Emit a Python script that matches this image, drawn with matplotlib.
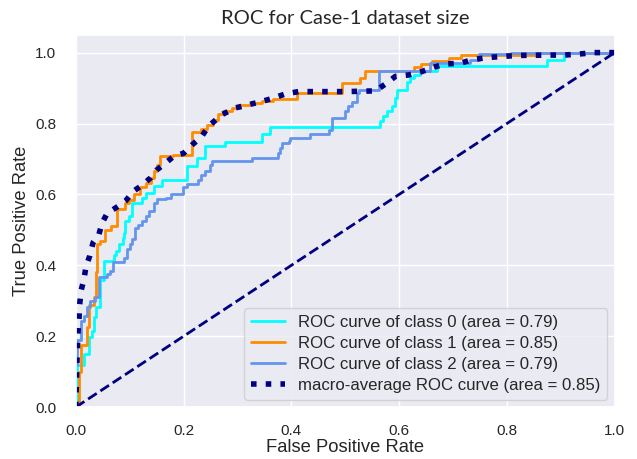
import numpy as np
import matplotlib
matplotlib.use("Agg")
import matplotlib.pyplot as plt
import seaborn as sns

# ROC step corners: (fpr where the curve rises, tpr after the rise)
fpr_0 = [0.0, 0.003, 0.015, 0.024, 0.030, 0.033, 0.038, 0.045, 0.052, 0.070, 0.075, 0.080,
         0.087, 0.090, 0.092, 0.098, 0.105, 0.123, 0.130, 0.145, 0.160, 0.207, 0.224, 0.240,
         0.277, 0.345, 0.361, 0.565, 0.570, 0.577, 0.586, 0.593, 0.596, 0.615, 0.621, 0.627,
         0.639, 0.670, 0.875, 0.905, 1.0]
tpr_0 = [0.0, 0.12, 0.15, 0.198, 0.216, 0.254, 0.282, 0.36, 0.413, 0.43, 0.44, 0.46,
         0.478, 0.49, 0.525, 0.54, 0.577, 0.59, 0.605, 0.624, 0.642, 0.68, 0.703, 0.736,
         0.748, 0.771, 0.789, 0.806, 0.82, 0.834, 0.85, 0.872, 0.895, 0.918, 0.928, 0.937,
         0.947, 0.963, 0.98, 1.0, 1.0]

fpr_1 = [0.0, 0.006, 0.010, 0.020, 0.025, 0.033, 0.037, 0.040, 0.045, 0.055, 0.065, 0.076,
         0.092, 0.098, 0.108, 0.120, 0.130, 0.139, 0.145, 0.151, 0.156, 0.180, 0.216, 0.233,
         0.243, 0.255, 0.264, 0.273, 0.289, 0.305, 0.323, 0.345, 0.366, 0.410, 0.494, 0.528,
         0.537, 0.627, 0.640, 0.661, 0.692, 0.714, 0.855, 1.0]
tpr_1 = [0.0, 0.10, 0.174, 0.225, 0.287, 0.31, 0.38, 0.46, 0.47, 0.50, 0.51, 0.56,
         0.577, 0.585, 0.60, 0.62, 0.633, 0.647, 0.666, 0.684, 0.708, 0.712, 0.775, 0.785,
         0.797, 0.811, 0.826, 0.834, 0.844, 0.852, 0.858, 0.863, 0.868, 0.886, 0.914, 0.928,
         0.948, 0.96, 0.967, 0.975, 0.986, 0.993, 1.0, 1.0]

fpr_2 = [0.0, 0.003, 0.009, 0.015, 0.021, 0.027, 0.035, 0.043, 0.058, 0.063, 0.069, 0.089,
         0.095, 0.100, 0.105, 0.110, 0.116, 0.123, 0.130, 0.136, 0.145, 0.151, 0.167, 0.176,
         0.198, 0.206, 0.227, 0.233, 0.240, 0.249, 0.252, 0.327, 0.376, 0.379, 0.382, 0.395,
         0.398, 0.435, 0.469, 0.475, 0.500, 0.506, 0.512, 0.522, 0.525, 0.562, 0.658, 0.732,
         0.748, 0.807, 1.0]
tpr_2 = [0.12, 0.19, 0.244, 0.258, 0.282, 0.30, 0.31, 0.366, 0.375, 0.385, 0.408, 0.422,
         0.446, 0.46, 0.475, 0.506, 0.515, 0.525, 0.54, 0.553, 0.577, 0.586, 0.591, 0.60,
         0.62, 0.63, 0.642, 0.655, 0.667, 0.684, 0.694, 0.703, 0.717, 0.731, 0.745, 0.75,
         0.759, 0.771, 0.783, 0.816, 0.834, 0.848, 0.86, 0.886, 0.895, 0.947, 0.97, 0.98,
         0.995, 1.0, 1.0]

fpr_macro = [0.0, 0.002, 0.004, 0.006, 0.007, 0.010, 0.015, 0.019, 0.026, 0.032, 0.043, 0.049,
             0.058, 0.077, 0.092, 0.108, 0.123, 0.139, 0.151, 0.167, 0.182, 0.200, 0.216, 0.234,
             0.246, 0.271, 0.296, 0.320, 0.345, 0.367, 0.388, 0.413, 0.500, 0.556, 0.577, 0.593,
             0.618, 0.643, 0.667, 0.686, 0.714, 0.735, 0.763, 0.791, 0.819, 0.875, 0.906, 0.934,
             0.962, 1.0]
tpr_macro = [0.0, 0.12, 0.21, 0.25, 0.287, 0.33, 0.36, 0.397, 0.427, 0.464, 0.488, 0.52,
             0.546, 0.565, 0.581, 0.61, 0.626, 0.647, 0.67, 0.689, 0.708, 0.716, 0.74, 0.764,
             0.792, 0.825, 0.844, 0.853, 0.862, 0.872, 0.883, 0.89, 0.89, 0.892, 0.914, 0.933,
             0.937, 0.947, 0.96, 0.968, 0.97, 0.98, 0.986, 0.989, 0.992, 0.993, 0.993, 0.996,
             1.0, 1.0]

areas = [0.79, 0.85, 0.79]
area_macro = 0.85
colors = ['aqua', 'darkorange', 'cornflowerblue']

sns.set_theme(style="darkgrid")
plt.rcParams['font.family'] = ['Liberation Sans', 'DejaVu Sans']

plt.figure(figsize=(6.37, 4.59), dpi=100)
plt.subplots_adjust(left=0.119, right=0.965, bottom=0.113, top=0.924)

curves = [(fpr_0, tpr_0), (fpr_1, tpr_1), (fpr_2, tpr_2)]
for i, (fpr, tpr) in enumerate(curves):
    plt.plot(fpr, tpr, color=colors[i], lw=2, drawstyle='steps-post',
             label='ROC curve of class {0} (area = {1:0.2f})'.format(i, areas[i]))

plt.plot(fpr_macro, tpr_macro, color='navy', linestyle=':', linewidth=4,
         label='macro-average ROC curve (area = {0:0.2f})'.format(area_macro))

plt.plot([0, 1], [0, 1], color='navy', linestyle='--', lw=2)
plt.xlim([0.0, 1.0])
plt.ylim([0.0, 1.05])
plt.xticks(np.arange(0, 1.01, 0.2), fontsize=11)
plt.yticks(np.arange(0, 1.01, 0.2), fontsize=11)
plt.tick_params(axis='x', pad=6)
plt.tick_params(axis='y', pad=8)
plt.xlabel('False Positive Rate', fontsize=13.2, labelpad=1)
plt.ylabel('True Positive Rate', fontsize=13.2, labelpad=4)
plt.title('ROC for Case-1 dataset size', fontsize=14.5, family='Lato', pad=8)
plt.legend(loc='lower right', fontsize=12.1, labelspacing=0.35, borderaxespad=0.45)
plt.savefig('out.png', dpi=100)
